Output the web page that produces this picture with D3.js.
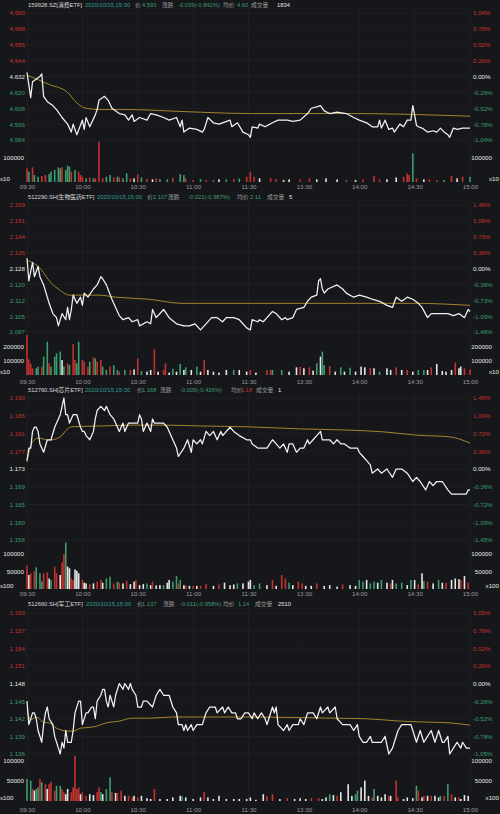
<!DOCTYPE html>
<html><head><meta charset="utf-8">
<script src="https://cdn.jsdelivr.net/npm/d3@7"></script>
<style>html,body{margin:0;padding:0;background:#16171b;}svg{display:block}</style>
</head><body><svg id="c" width="500" height="814"></svg>
<script>
// ---------------- DATA ----------------
const timeTicks = ["09:30","10:00","10:30","11:00","11:30","13:30","14:00","14:30","15:00"];

// Panel 1: 159928.SZ
const p1Header = ["159928.SZ[消费ETF]","2020/10/15,15:00","价","4.593","涨跌","-0.039(-0.842%)","均价","4.60","成交量","1834"];
const p1PrevClose = 4.632;
const p1LeftTicks = ["4.680","4.668","4.656","4.644","4.632","4.620","4.608","4.596","4.584"];
const p1RightTicks = ["1.04%","0.78%","0.52%","0.26%","0.00%","-0.26%","-0.52%","-0.78%","-1.04%"];
const p1VolTicks = [100000];
const p1VolUnit = "x10";
const p1Time = [
"09:30","09:32","09:33","09:37","09:38","09:39","09:41","09:42","09:44","09:46",
"09:49","09:52","09:54","09:55","09:57","10:00","10:01","10:02","10:04","10:07",
"10:08","10:09","10:12","10:14","10:16","10:20","10:23","10:25","10:27","10:28",
"10:31","10:35","10:37","10:40","10:44","10:47","10:51","10:53","10:54","10:55",
"10:58","11:02","11:05","11:06","11:08","11:11","11:14","11:20","11:21","11:24",
"11:27","11:30","13:01","13:02","13:05","13:06","13:09","13:13","13:16","13:21",
"13:24","13:28","13:32","13:34","13:37","13:39","13:41","13:44","13:48","13:53",
"13:57","14:00","14:04","14:07","14:10","14:11","14:12","14:14","14:16","14:18",
"14:19","14:22","14:24","14:26","14:28","14:29","14:30","14:31","14:32","14:34",
"14:37","14:40","14:42","14:44","14:46","14:48","14:49","14:51","14:53","14:56",
"15:00"];
const p1Price = [
4.635,4.616,4.628,4.632,4.634,4.617,4.613,4.612,4.610,4.607,
4.601,4.596,4.590,4.596,4.588,4.599,4.592,4.601,4.594,4.603,
4.607,4.614,4.617,4.614,4.608,4.604,4.603,4.599,4.603,4.598,
4.601,4.599,4.604,4.603,4.601,4.599,4.601,4.594,4.599,4.590,
4.593,4.592,4.590,4.592,4.601,4.597,4.596,4.599,4.594,4.597,
4.590,4.588,4.586,4.594,4.593,4.596,4.594,4.597,4.599,4.599,
4.598,4.599,4.604,4.608,4.609,4.610,4.606,4.604,4.605,4.604,
4.601,4.599,4.597,4.594,4.594,4.599,4.593,4.599,4.592,4.593,
4.590,4.596,4.594,4.599,4.599,4.610,4.603,4.595,4.594,4.593,
4.590,4.591,4.590,4.593,4.590,4.588,4.586,4.593,4.592,4.593,
4.593];
const p1AvgTime = ["09:30","09:37","09:42","09:52","09:57","10:02","10:10","10:27","10:46","11:04","11:30","13:55","15:00"];
const p1Avg = [4.633,4.629,4.626,4.620,4.612,4.608,4.607,4.607,4.606,4.605,4.604,4.604,4.602];
const p1VolTime = [
"09:30","09:31","09:33","09:34","09:36","09:38","09:40","09:42","09:43","09:45",
"09:47","09:48","09:49","09:51","09:52","09:53","09:54","09:56","09:58","09:59",
"10:00","10:02","10:04","10:06","10:07","10:09","10:11","10:13","10:15","10:17",
"10:19","10:20","10:22","10:24","10:26","10:28","10:30","10:32","10:35","10:38",
"10:40","10:42","10:46","10:49","10:53","10:55","10:56","11:00","11:04","11:07",
"11:11","11:14","11:18","11:22","11:25","11:29",
"13:01","13:03","13:06","13:12","13:15","13:19","13:22","13:28","13:33","13:37",
"13:42","13:48","13:53","13:58","14:02","14:08","14:11","14:15","14:20","14:24",
"14:26","14:27","14:29","14:31","14:35","14:38","14:42","14:46","14:50","14:53",
"14:56","15:00"];
const p1Vol = [
57000,43000,61000,29000,22000,25000,29000,33000,43000,50000,
61000,57000,61000,50000,68000,64000,43000,50000,43000,29000,
22000,15000,19000,15000,15000,168000,15000,22000,29000,19000,
22000,19000,15000,36000,15000,15000,32000,19000,12000,11000,
15000,12000,11000,18000,33000,29000,15000,8000,12000,8000,
8000,11000,11000,12000,15000,22000,
43000,22000,15000,15000,12000,8000,11000,11000,15000,11000,
15000,11000,8000,8000,11000,25000,11000,11000,19000,22000,
36000,29000,119000,15000,11000,11000,8000,8000,25000,15000,
22000,22000];
const p1VolDir = "rgrggrrggg"+"ggrgggrgrr"+"rgrgrrrggr"+"grggrwrgrw"+"rggrggrrgr"+"rwgrgr"+
                 "rrwrrwwrrw"+"wwrwrrrwwr"+"rrgrwrrgrw"+"rg";

// Panel 2: 512290.SH
const p2Header = ["512290.SH[生物医药ETF]","2020/10/15,15:00","价","2.107","涨跌","-0.021(-0.987%)","均价","2.11","成交量","5"];
const p2PrevClose = 2.128;
const p2LeftTicks = ["2.159","2.151","2.144","2.136","2.128","2.120","2.112","2.105","2.097"];
const p2RightTicks = ["1.46%","1.09%","0.73%","0.36%","0.00%","-0.36%","-0.73%","-1.09%","-1.46%"];
const p2VolTicks = [200000,100000];
const p2VolUnit = "x10";
const p2Time = [
"09:30","09:31","09:33","09:34","09:36","09:37","09:39","09:41","09:42","09:44",
"09:46","09:47","09:49","09:51","09:52","09:53","09:54","09:55","09:57","09:59",
"10:00","10:01","10:03","10:06","10:08","10:10","10:11","10:13","10:16","10:18",
"10:20","10:22","10:25","10:27","10:30","10:31","10:35","10:37","10:38","10:40",
"10:44","10:47","10:51","10:55","10:58","11:01","11:04","11:07","11:10","11:13",
"11:16","11:18","11:22","11:25","11:29","13:01","13:02","13:05","13:06","13:08",
"13:10","13:13","13:15","13:18","13:20","13:21","13:24","13:26","13:30","13:32",
"13:34","13:37","13:38","13:39","13:40","13:41","13:43","13:48","13:51","13:53",
"13:57","14:00","14:04","14:07","14:11","14:15","14:18","14:20","14:23","14:26",
"14:29","14:32","14:34","14:37","14:39","14:42","14:48","14:51","14:54","14:57",
"14:59","15:00"];
const p2Price = [
2.133,2.122,2.131,2.124,2.129,2.124,2.120,2.114,2.111,2.106,
2.104,2.100,2.106,2.103,2.109,2.103,2.108,2.115,2.111,2.114,
2.110,2.116,2.114,2.118,2.120,2.124,2.123,2.120,2.113,2.109,
2.105,2.103,2.104,2.102,2.103,2.100,2.102,2.101,2.108,2.104,
2.108,2.104,2.101,2.100,2.100,2.101,2.098,2.101,2.104,2.104,
2.102,2.104,2.104,2.103,2.099,2.098,2.103,2.102,2.103,2.102,
2.104,2.107,2.106,2.103,2.104,2.103,2.104,2.108,2.109,2.112,
2.114,2.115,2.122,2.123,2.118,2.116,2.118,2.120,2.118,2.116,
2.114,2.115,2.114,2.113,2.112,2.110,2.109,2.114,2.112,2.114,
2.113,2.111,2.109,2.104,2.106,2.106,2.106,2.105,2.106,2.104,
2.108,2.107];
const p2AvgTime = ["09:30","09:36","09:39","09:42","09:47","09:53","10:00","10:09","10:18","10:36","10:54","11:30","14:30","15:00"];
const p2Avg = [2.132,2.129,2.126,2.122,2.118,2.115,2.115,2.115,2.114,2.113,2.111,2.111,2.111,2.110];
const p2VolTime = [
"09:30","09:31","09:32","09:33","09:35","09:36","09:38","09:39","09:41","09:42",
"09:43","09:45","09:46","09:48","09:49","09:50","09:52","09:53","09:55","09:56",
"09:57","09:58","10:00","10:01","10:03","10:04","10:06","10:07","10:08","10:10",
"10:11","10:13","10:15","10:17","10:19","10:20","10:23","10:26","10:28","10:30",
"10:32","10:35","10:37","10:39","10:41","10:44","10:45","10:47","10:49","10:51",
"10:53","10:55","10:56","10:59","11:02","11:04","11:06","11:08","11:11","11:14",
"11:18","11:22","11:25","11:29",
"13:01","13:04","13:10","13:12","13:13","13:18","13:22","13:26","13:28","13:30",
"13:33","13:35","13:37","13:39","13:40","13:41","13:44","13:47","13:50","13:52",
"13:55","13:58","14:01","14:03","14:06","14:08","14:11","14:15","14:17","14:20",
"14:23","14:26","14:29","14:32","14:35","14:37","14:39","14:42","14:45","14:47",
"14:50","14:52","14:54","14:55","14:57","15:00"];
const p2Vol = [
286000,112000,83000,48000,48000,60000,60000,131000,238000,83000,
60000,131000,155000,167000,107000,60000,83000,71000,221000,107000,
83000,238000,107000,95000,60000,95000,126000,119000,95000,107000,
60000,36000,60000,71000,36000,24000,36000,36000,40000,119000,
29000,24000,36000,183000,24000,36000,83000,17000,45000,24000,
79000,36000,55000,36000,60000,24000,107000,36000,24000,17000,
36000,36000,36000,24000,
36000,17000,36000,36000,36000,36000,24000,55000,60000,48000,
55000,31000,83000,131000,167000,71000,64000,24000,55000,24000,
52000,24000,60000,55000,52000,48000,24000,48000,36000,55000,
36000,36000,24000,36000,36000,36000,55000,79000,29000,24000,
36000,90000,48000,60000,48000,40000];
const p2VolDir = "rrrrggrggr"+"ggggwgrgrr"+"ggrrrgrgrr"+"ggrggrgrwr"+"gwwrwrrwgw"+"gwgwgwrwww"+"wgww"+
                 "rwrrggwwrw"+"rwgwggrwgw"+"gwwwrwgwwr"+"wrwggwrwww"+"wrwwrr";

// Panel 3: 512760.SH
const p3Header = ["512760.SH[芯片ETF]","2020/10/15,15:00","价","1.168","涨跌","-0.005(-0.426%)","均价","1.18","成交量","1"];
const p3PrevClose = 1.173;
const p3LeftTicks = ["1.190","1.186","1.181","1.177","1.173","1.169","1.165","1.160","1.156"];
const p3RightTicks = ["1.45%","1.09%","0.72%","0.36%","0.00%","-0.36%","-0.72%","-1.09%","-1.45%"];
const p3VolTicks = [100000,50000];
const p3VolUnit = "x100";
const p3Time = [
"09:30","09:31","09:32","09:33","09:34","09:35","09:36","09:37","09:38","09:39",
"09:41","09:43","09:45","09:46","09:47","09:48","09:49","09:50","09:51","09:52",
"09:53","09:55","09:56","09:57","09:59","10:00","10:01","10:02","10:04","10:06",
"10:07","10:08","10:10","10:12","10:13","10:15","10:17","10:19","10:20","10:22",
"10:23","10:25","10:27","10:30","10:31","10:32","10:33","10:35","10:37","10:38",
"10:39","10:41","10:44","10:46","10:47","10:49","10:51","10:52","10:55","10:56",
"10:57","10:59","11:00","11:02","11:04","11:05","11:07","11:09","11:11","11:13",
"11:15","11:16","11:20","11:22","11:25","11:29","13:01","13:02","13:05","13:07",
"13:10","13:13","13:15","13:17","13:19","13:21","13:22","13:24","13:26","13:28",
"13:30","13:32","13:33","13:35","13:37","13:39","13:40","13:41","13:44","13:46",
"13:48","13:50","13:52","13:55","13:57","13:59","14:00","14:02","14:04","14:06",
"14:07","14:10","14:12","14:15","14:18","14:20","14:23","14:26","14:29","14:31",
"14:33","14:36","14:38","14:40","14:42","14:45","14:48","14:50","14:53","14:55",
"14:58","14:59","15:00"];
const p3Price = [
1.175,1.178,1.178,1.182,1.183,1.183,1.182,1.179,1.178,1.177,
1.180,1.180,1.183,1.184,1.185,1.186,1.188,1.190,1.186,1.186,
1.184,1.186,1.186,1.186,1.183,1.182,1.182,1.181,1.180,1.182,
1.185,1.187,1.188,1.187,1.188,1.186,1.185,1.183,1.182,1.184,
1.182,1.184,1.184,1.184,1.186,1.185,1.182,1.184,1.182,1.185,
1.184,1.184,1.184,1.183,1.182,1.180,1.178,1.176,1.178,1.179,
1.180,1.177,1.180,1.179,1.180,1.179,1.182,1.181,1.182,1.180,
1.182,1.181,1.183,1.182,1.181,1.180,1.180,1.179,1.178,1.178,
1.178,1.180,1.179,1.178,1.179,1.177,1.179,1.179,1.177,1.178,
1.178,1.180,1.179,1.180,1.181,1.182,1.180,1.180,1.180,1.179,
1.180,1.179,1.179,1.178,1.178,1.178,1.177,1.176,1.175,1.174,
1.172,1.173,1.172,1.173,1.171,1.173,1.173,1.172,1.170,1.171,
1.170,1.168,1.170,1.169,1.170,1.170,1.168,1.167,1.167,1.167,
1.167,1.168,1.168];
const p3AvgTime = ["09:30","09:31","09:33","09:36","09:42","09:48","09:52","09:54","10:10","10:27","10:46","11:04","11:30","13:28","13:55","14:13","14:31","14:49","15:00"];
const p3Avg = [1.1747,1.1770,1.1795,1.1804,1.1799,1.1807,1.1826,1.1831,1.1833,1.1835,1.1835,1.1833,1.1831,1.1826,1.1823,1.1819,1.1811,1.1807,1.1792];
const p3VolTime = [
"09:30","09:31","09:32","09:34","09:35","09:37","09:38","09:39","09:41","09:42",
"09:43","09:45","09:46","09:48","09:49","09:50","09:51","09:52","09:53","09:54",
"09:55","09:56","09:57","09:58","10:00","10:01","10:02","10:04","10:06","10:08",
"10:10","10:11","10:13","10:15","10:17","10:19","10:20","10:22","10:24","10:26",
"10:28","10:29","10:31","10:33","10:35","10:37","10:38","10:40","10:42","10:44",
"10:46","10:47","10:49","10:51","10:52","10:53","10:55","10:56","10:58","11:00",
"11:02","11:04","11:07","11:11","11:14","11:17","11:20","11:22","11:24","11:27",
"11:30",
"13:01","13:03","13:06","13:10","13:13","13:15","13:18","13:20","13:22","13:24",
"13:27","13:29","13:31","13:34","13:37","13:41","13:44","13:48","13:51","13:55",
"13:58","14:00","14:02","14:04","14:06","14:08","14:10","14:12","14:15","14:17",
"14:18","14:20","14:23","14:26","14:28","14:30","14:32","14:34","14:35","14:37",
"14:40","14:43","14:45","14:47","14:50","14:52","14:54","14:55","14:57","14:59"];
const p3Vol = [
67000,40000,45000,50000,62000,45000,21000,45000,48000,30000,
26000,64000,45000,40000,76000,100000,133000,64000,59000,30000,
26000,56000,52000,45000,26000,18000,16000,14000,16000,21000,
26000,18000,30000,35000,16000,21000,18000,16000,23000,14000,
21000,26000,11000,14000,16000,11000,21000,10000,11000,11000,
18000,26000,21000,37000,16000,26000,11000,9000,9000,9000,
9000,9000,14000,9000,13000,18000,11000,13000,16000,16000,
21000,
26000,11000,16000,11000,26000,9000,40000,30000,18000,11000,
21000,16000,9000,9000,16000,9000,11000,7000,13000,11000,
9000,26000,21000,26000,16000,21000,18000,26000,18000,16000,
26000,16000,18000,11000,26000,26000,13000,45000,23000,21000,
16000,26000,18000,18000,26000,30000,28000,26000,37000,18000];
const p3VolDir = "rwrrgggrrw"+"grrwrrgwwr"+"rwwwrwwrwr"+"rwggrgrwrw"+"wrwwgwrwwg"+"wwggrgwrwr"+"wrrwrwwwgw"+"w"+
                 "wggwrwrrgw"+"rrwwrwwwrw"+"wggwggwgwr"+"wggwgwrwgr"+"wgwrwwwrwr";

// Panel 4: 512660.SH
const p4Header = ["512660.SH[军工ETF]","2020/10/15,15:00","价","1.137","涨跌","-0.011(-0.958%)","均价","1.14","成交量","2510"];
const p4PrevClose = 1.148;
const p4LeftTicks = ["1.160","1.157","1.154","1.151","1.148","1.145","1.142","1.139","1.136"];
const p4RightTicks = ["1.05%","0.78%","0.52%","0.26%","0.00%","-0.26%","-0.52%","-0.78%","-1.05%"];
const p4VolTicks = [100000,50000];
const p4VolUnit = "x100";
const p4Time = [
"09:30","09:31","09:33","09:34","09:35","09:36","09:38","09:39","09:40","09:41",
"09:42","09:44","09:45","09:46","09:47","09:48","09:49","09:50","09:51","09:52",
"09:54","09:55","09:56","09:58","09:59","10:00","10:02","10:03","10:05","10:06",
"10:07","10:08","10:10","10:11","10:12","10:13","10:14","10:15","10:17","10:18",
"10:19","10:20","10:22","10:23","10:25","10:26","10:27","10:29","10:30","10:32",
"10:33","10:35","10:38","10:39","10:40","10:42","10:44","10:47","10:49","10:51",
"10:52","10:54","10:55","10:56","10:57","10:59","11:00","11:02","11:05","11:07",
"11:09","11:12","11:13","11:16","11:17","11:19","11:21","11:23","11:24","11:26",
"11:28","11:30","13:02","13:03","13:05","13:07","13:09","13:10","13:11","13:13",
"13:14","13:15","13:16","13:19","13:21","13:22","13:24","13:25","13:27","13:28",
"13:30","13:32","13:35","13:37","13:39","13:40","13:43","13:44","13:47","13:48",
"13:51","13:55","13:57","13:59","14:00","14:02","14:04","14:06","14:07","14:10",
"14:12","14:14","14:16","14:18","14:19","14:21","14:23","14:26","14:28","14:29",
"14:31","14:33","14:35","14:37","14:39","14:41","14:43","14:45","14:46","14:48",
"14:49","14:51","14:53","14:55","14:56","14:58","15:00"];
const p4Price = [
1.145,1.141,1.143,1.143,1.142,1.140,1.138,1.141,1.143,1.144,
1.142,1.141,1.139,1.138,1.137,1.136,1.138,1.137,1.140,1.138,
1.138,1.140,1.143,1.145,1.145,1.141,1.143,1.143,1.144,1.144,
1.142,1.145,1.146,1.147,1.147,1.145,1.144,1.146,1.144,1.146,
1.147,1.148,1.147,1.148,1.147,1.148,1.147,1.146,1.144,1.144,
1.145,1.145,1.144,1.145,1.146,1.147,1.146,1.146,1.144,1.143,
1.141,1.141,1.140,1.141,1.140,1.141,1.140,1.141,1.141,1.143,
1.144,1.144,1.143,1.144,1.143,1.144,1.143,1.143,1.142,1.142,
1.143,1.143,1.142,1.143,1.142,1.143,1.142,1.141,1.142,1.144,
1.143,1.144,1.141,1.140,1.141,1.140,1.141,1.141,1.141,1.142,
1.141,1.143,1.143,1.142,1.144,1.143,1.144,1.143,1.144,1.142,
1.141,1.141,1.140,1.141,1.139,1.138,1.138,1.139,1.138,1.138,
1.138,1.139,1.136,1.137,1.138,1.140,1.141,1.141,1.141,1.140,
1.138,1.140,1.138,1.139,1.140,1.138,1.140,1.138,1.138,1.139,
1.136,1.137,1.138,1.137,1.138,1.137,1.137];
const p4AvgTime = ["09:30","09:32","09:35","09:39","09:42","09:46","09:52","09:55","09:59","10:06","10:13","10:20","10:27","10:37","10:49","11:04","11:30","13:46","14:04","14:22","14:40","14:49","15:00"];
const p4Avg = [1.1435,1.1418,1.1423,1.1414,1.1413,1.1404,1.1399,1.1399,1.1404,1.1406,1.1413,1.1416,1.1421,1.1421,1.1423,1.1423,1.1423,1.1421,1.1420,1.1416,1.1414,1.1413,1.1409];
const p4VolTime = [
"09:30","09:32","09:33","09:34","09:35","09:36","09:37","09:38","09:40","09:41",
"09:42","09:43","09:45","09:46","09:48","09:49","09:50","09:51","09:52","09:54",
"09:55","09:56","09:57","09:58","09:59","10:00","10:02","10:04","10:06","10:08",
"10:09","10:10","10:11","10:13","10:15","10:16","10:18","10:19","10:21","10:23",
"10:25","10:27","10:28","10:30","10:32","10:35","10:37","10:39","10:42","10:46",
"10:49","10:53","10:54","10:56","11:00","11:04","11:06","11:08","11:11","11:14",
"11:18","11:22","11:25","11:29",
"13:01","13:04","13:08","13:10","13:13","13:17","13:21","13:25","13:28","13:31",
"13:34","13:38","13:40","13:42","13:44","13:46","13:48","13:50","13:54","13:56",
"13:58","13:59","14:01","14:03","14:05","14:07","14:08","14:10","14:12","14:14",
"14:16","14:17","14:20","14:21","14:24","14:26","14:29","14:31","14:32","14:34",
"14:35","14:37","14:39","14:41","14:43","14:44","14:46","14:48","14:50","14:52",
"14:54","14:55","14:57","14:59"];
const p4Vol = [
55000,51000,30000,26000,30000,34000,55000,47000,42000,30000,
42000,48000,26000,38000,38000,30000,22000,17000,30000,22000,
34000,113000,30000,34000,17000,22000,13000,17000,15000,22000,
34000,22000,17000,30000,59000,22000,20000,20000,26000,13000,
13000,9000,13000,9000,13000,7000,5000,30000,5000,5000,
9000,13000,12000,9000,5000,9000,23000,9000,5000,13000,
5000,5000,5000,5000,
9000,3000,17000,12000,17000,5000,7000,5000,7000,5000,
7000,7000,5000,9000,17000,15000,13000,22000,42000,13000,
17000,26000,34000,51000,13000,9000,30000,13000,9000,17000,
12000,13000,51000,9000,5000,9000,7000,38000,26000,9000,
13000,13000,13000,13000,9000,13000,13000,42000,17000,9000,
9000,5000,15000,13000];
const p4VolDir = "ggrwggrgrw"+"rrrggrrwwr"+"rrrrwrrwwr"+"rgwggrwrrw"+"rrwrwwwrww"+"wwgwwwrwww"+"wwww"+
                 "wwwrrwrwww"+"rrwwgwrwww"+"ggwwwrgwww"+"rwrrwwwgrw"+"rwrwwgrgrw"+"rwww";

// ---------------- LAYOUT (positions/styles only) ----------------
const layouts = [
  {headerY:5,  hx:[28,85,135,142,162,178,223,237,251,277], top:13,  bot:140, volBase:182, vol100k:158, timeY:187},
  {headerY:197,hx:[28,97,147,153,168,188,237,250,267,289], top:205, bot:332, volBase:375, vol100k:361, timeY:382},
  {headerY:390,hx:[28,85,137,142,160,180,231,241,256,278], top:398, bot:540, volBase:589, vol100k:554, timeY:594},
  {headerY:604,hx:[28,86,137,142,163,180,223,238,255,278], top:613, bot:754, volBase:801, vol100k:761, timeY:810}
];
const panels = [
  {header:p1Header, prev:p1PrevClose, lt:p1LeftTicks, rt:p1RightTicks, vt:p1VolTicks, vu:p1VolUnit, time:p1Time, price:p1Price, avgT:p1AvgTime, avg:p1Avg, volT:p1VolTime, vol:p1Vol, dir:p1VolDir},
  {header:p2Header, prev:p2PrevClose, lt:p2LeftTicks, rt:p2RightTicks, vt:p2VolTicks, vu:p2VolUnit, time:p2Time, price:p2Price, avgT:p2AvgTime, avg:p2Avg, volT:p2VolTime, vol:p2Vol, dir:p2VolDir},
  {header:p3Header, prev:p3PrevClose, lt:p3LeftTicks, rt:p3RightTicks, vt:p3VolTicks, vu:p3VolUnit, time:p3Time, price:p3Price, avgT:p3AvgTime, avg:p3Avg, volT:p3VolTime, vol:p3Vol, dir:p3VolDir},
  {header:p4Header, prev:p4PrevClose, lt:p4LeftTicks, rt:p4RightTicks, vt:p4VolTicks, vu:p4VolUnit, time:p4Time, price:p4Price, avgT:p4AvgTime, avg:p4Avg, volT:p4VolTime, vol:p4Vol, dir:p4VolDir}
];

// ---------------- DRAW ----------------
const BG='#16171b', GRID='#23252b', RED='#c3322f', GREEN='#3d9c70', WHITE='#e6e6e6', GREY='#9a9a9a', GOLD='#b3912c', TEAL='#2f9f93';
const FONT='"Liberation Sans","Noto Sans CJK SC",Arial,sans-serif';
const FS=6.2;
const svg=d3.select('#c');
svg.append('rect').attr('width',500).attr('height',814).attr('fill',BG);

function tmin(t){const a=t.split(':').map(Number);const v=a[0]*60+a[1];return v<=690? v-570 : v-780+120;}
const x=d3.scaleLinear().domain([0,240]).range([27,470]);
const colOf=c=>c==='r'?RED:(c==='g'?GREEN:WHITE);

panels.forEach((p,pi)=>{
  const L=layouts[pi];
  const g=svg.append('g');
  const tickVals=p.lt.map(Number);
  const yIdx=d3.scaleLinear().domain([0,tickVals.length-1]).range([L.top,L.bot]);
  const yPrice=d3.scaleLinear().domain([p.prev*(1-(tickVals[0]/p.prev-1)),tickVals[0]]).range([L.bot,L.top]);
  const yVol=d3.scaleLinear().domain([0,100000]).range([L.volBase,L.vol100k]);

  // grid
  const grid=g.append('g').attr('stroke',GRID).attr('stroke-width',0.6);
  tickVals.forEach((v,i)=>grid.append('line').attr('x1',x(0)).attr('x2',x(240)).attr('y1',yIdx(i)).attr('y2',yIdx(i)));
  timeTicks.forEach(t=>grid.append('line').attr('x1',x(tmin(t))).attr('x2',x(tmin(t))).attr('y1',L.top-6).attr('y2',L.volBase));

  // volume bars
  g.append('g').selectAll('rect').data(p.vol).join('rect')
    .attr('x',(d,i)=>x(tmin(p.volT[i]))-0.8).attr('width',1.6)
    .attr('y',d=>yVol(d)).attr('height',d=>L.volBase-yVol(d))
    .attr('fill',(d,i)=>colOf(p.dir[i]));

  // avg line
  g.append('path').datum(p.avg).attr('fill','none').attr('stroke',GOLD).attr('stroke-width',0.9)
    .attr('d',d3.line().curve(d3.curveMonotoneX).x((d,i)=>x(tmin(p.avgT[i]))).y(d=>yPrice(d)));
  // price line
  g.append('path').datum(p.price).attr('fill','none').attr('stroke','#f2f2f2').attr('stroke-width',1.25).attr('stroke-linejoin','round')
    .attr('d',d3.line().x((d,i)=>x(tmin(p.time[i]))).y(d=>yPrice(d)));

  // price axes
  const tcol=(i)=>{const v=tickVals[i];return Math.abs(v-p.prev)<1e-9?WHITE:(v>p.prev?RED:GREEN);};
  const axL=g.append('g').attr('transform','translate(25,0)')
    .call(d3.axisLeft(yIdx).tickValues(d3.range(tickVals.length)).tickFormat(i=>p.lt[i]).tickSize(0).tickPadding(0));
  const axR=g.append('g').attr('transform','translate(473,0)')
    .call(d3.axisRight(yIdx).tickValues(d3.range(tickVals.length)).tickFormat(i=>p.rt[i]).tickSize(0).tickPadding(0));
  [axL,axR].forEach(a=>{a.select('.domain').remove();a.attr('font-family',FONT).attr('font-size',FS);
    a.selectAll('text').attr('fill',(d)=>tcol(d));});

  // volume axes
  const vL=g.append('g').attr('transform','translate(24,0)')
    .call(d3.axisLeft(yVol).tickValues(p.vt).tickFormat(d3.format('d')).tickSize(0).tickPadding(0));
  const vR=g.append('g').attr('transform','translate(492,0)')
    .call(d3.axisLeft(yVol).tickValues(p.vt).tickFormat(d3.format('d')).tickSize(0).tickPadding(0));
  [vL,vR].forEach(a=>{a.select('.domain').remove();a.attr('font-family',FONT).attr('font-size',FS);a.selectAll('text').attr('fill',WHITE);});
  g.append('text').attr('x',0).attr('y',L.volBase-1).attr('font-family',FONT).attr('font-size',FS).attr('fill',WHITE).text(p.vu);
  g.append('text').attr('x',499).attr('y',L.volBase-1).attr('text-anchor','end').attr('font-family',FONT).attr('font-size',FS).attr('fill',WHITE).text(p.vu);

  // time axis
  const ta=g.append('g').attr('transform',`translate(0,${L.timeY-2.3})`)
    .call(d3.axisBottom(x).tickValues(timeTicks.map(tmin)).tickFormat((d,i)=>timeTicks[i]).tickSize(0).tickPadding(0));
  ta.select('.domain').remove();ta.attr('font-family',FONT).attr('font-size',FS);ta.selectAll('text').attr('fill',GREY);

  // header
  const lastPrice=+p.header[3], avgV=+p.header[7];
  const hcol=[ '#d8d8d8', TEAL, GREY, lastPrice>=p.prev?RED:GREEN, GREY, p.header[5][0]==='-'?GREEN:RED, GREY, avgV>=p.prev?RED:GREEN, GREY, WHITE];
  const ht=g.append('text').attr('y',L.headerY+2.2).attr('font-family',FONT).attr('font-size',5.8);
  p.header.forEach((s,i)=>ht.append('tspan').attr('x',L.hx[i]).attr('fill',hcol[i]).text(s));
});
</script></body></html>
